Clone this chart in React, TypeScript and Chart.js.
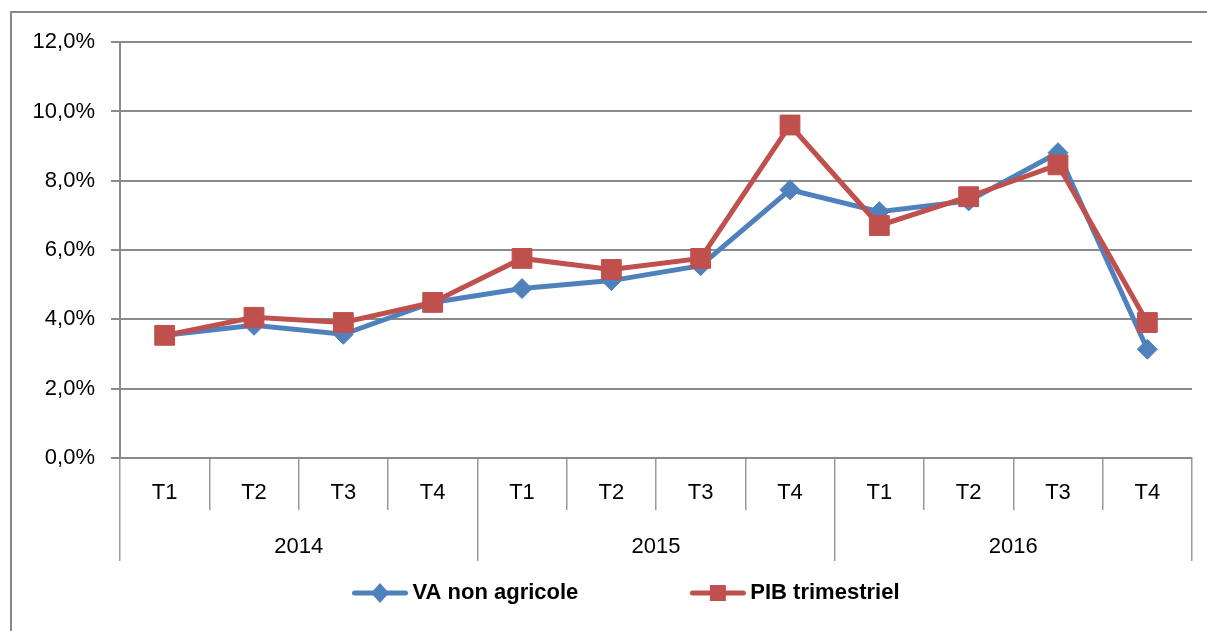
import React, { useEffect, useRef } from 'react';
import { Chart, registerables } from 'chart.js';

Chart.register(...registerables);

const years = ['2014', '2015', '2016'];
const quarters = ['T1', 'T2', 'T3', 'T4'];
const vaNonAgricole = [3.54, 3.83, 3.57, 4.49, 4.89, 5.12, 5.55, 7.74, 7.11, 7.42, 8.81, 3.14];
const pibTrimestriel = [3.54, 4.06, 3.91, 4.49, 5.76, 5.44, 5.76, 9.61, 6.71, 7.54, 8.46, 3.91];
const yTicks = [0, 2, 4, 6, 8, 10, 12];
const seriesNames = ['VA non agricole', 'PIB trimestriel'];

const categoryLabels = years.flatMap(() => quarters);

const BLUE = '#4F81BD';
const RED = '#C0504D';
const GRID = '#8a8a8a';
const SEP = '#9a9a9a';
const FONT = "'Liberation Sans', Arial, sans-serif";

function makeLegendImage(color: string, kind: 'diamond' | 'square') {
  const c = document.createElement('canvas');
  c.width = 160;
  c.height = 24;
  const ctx = c.getContext('2d')!;
  const cx = 107;
  ctx.strokeStyle = color;
  ctx.lineWidth = 5;
  ctx.lineCap = 'round';
  ctx.beginPath();
  ctx.moveTo(cx - 25.5, 12);
  ctx.lineTo(cx + 25.5, 12);
  ctx.stroke();
  ctx.fillStyle = color;
  if (kind === 'diamond') {
    ctx.beginPath();
    ctx.moveTo(cx, 12 - 10);
    ctx.lineTo(cx + 9, 12);
    ctx.lineTo(cx, 12 + 10);
    ctx.lineTo(cx - 9, 12);
    ctx.closePath();
    ctx.fill();
  } else {
    ctx.fillRect(cx - 8, 4, 16, 16);
  }
  return c;
}

export default function App() {
  const ref = useRef<HTMLCanvasElement | null>(null);

  useEffect(() => {
    document.documentElement.style.overflow = 'hidden';
    const canvas = ref.current;
    if (!canvas) return;
    const legendImages = [makeLegendImage(BLUE, 'diamond'), makeLegendImage(RED, 'square')];

    const chart = new Chart(canvas, {
      type: 'line',
      data: {
        labels: categoryLabels,
        datasets: [
          {
            label: seriesNames[0],
            data: vaNonAgricole,
            borderColor: BLUE,
            backgroundColor: BLUE,
            borderWidth: 5,
            pointStyle: 'rectRot',
            pointRadius: 10,
            pointBackgroundColor: BLUE,
            pointBorderColor: BLUE,
            pointBorderWidth: 1,
            tension: 0,
            order: 1,
          },
          {
            label: seriesNames[1],
            data: pibTrimestriel,
            borderColor: RED,
            backgroundColor: RED,
            borderWidth: 5,
            pointStyle: 'rect',
            pointRadius: 14,
            pointBackgroundColor: RED,
            pointBorderColor: RED,
            pointBorderWidth: 1,
            tension: 0,
            order: 0,
          },
        ],
      },
      options: {
        responsive: false,
        animation: false,
        layout: { autoPadding: false, padding: { left: 0, right: 7, top: 28, bottom: 9 } },
        plugins: {
          tooltip: { enabled: false },
          legend: {
            display: true,
            position: 'bottom',
            labels: {
              usePointStyle: true,
              pointStyleWidth: 97,
              padding: 64,
              color: '#000',
              font: { family: FONT, size: 22, weight: 'bold' },
              generateLabels: (ch: any) => {
                const items = Chart.defaults.plugins.legend.labels.generateLabels(ch);
                items.sort((a: any, b: any) => a.datasetIndex - b.datasetIndex);
                return items.map((it: any) => ({
                  ...it,
                  pointStyle: legendImages[it.datasetIndex],
                }));
              },
            },
          },
        },
        scales: {
          x: {
            type: 'category',
            position: 'bottom',
            offset: true,
            weight: 0,
            grid: {
              offset: true,
              drawOnChartArea: false,
              drawTicks: true,
              tickLength: 52,
              color: SEP,
              lineWidth: 1.5,
            },
            border: { display: true, color: GRID, width: 2 },
            ticks: {
              color: '#000',
              font: { family: FONT, size: 22 },
              padding: -30,
              maxRotation: 0,
              autoSkip: false,
            },
            afterFit: (s: any) => {
              s.height = 52;
            },
          },
          x2: {
            type: 'category',
            position: 'bottom',
            labels: years,
            offset: true,
            weight: 1,
            grid: {
              offset: true,
              drawOnChartArea: false,
              drawTicks: true,
              tickLength: 51,
              color: SEP,
              lineWidth: 1.5,
            },
            border: { display: false },
            ticks: {
              color: '#000',
              font: { family: FONT, size: 22 },
              mirror: true,
              padding: -50,
              maxRotation: 0,
              autoSkip: false,
            },
            afterFit: (s: any) => {
              s.height = 8;
            },
          },
          y: {
            type: 'linear',
            min: 0,
            max: 12,
            afterBuildTicks: (s: any) => {
              s.ticks = yTicks.map((v) => ({ value: v }));
            },
            grid: {
              color: GRID,
              lineWidth: 2,
              drawTicks: true,
              tickLength: 9,
            },
            border: { display: true, color: GRID, width: 2 },
            ticks: {
              color: '#000',
              font: { family: FONT, size: 22 },
              padding: 16,
              callback: (v: any) => Number(v).toFixed(1).replace('.', ',') + '%',
            },
            afterFit: (s: any) => {
              s.width = 108;
            },
          },
        },
      },
    });
    return () => chart.destroy();
  }, []);

  return (
    <div
      style={{
        position: 'fixed',
        left: 10,
        top: 11,
        width: 1197,
        height: 620,
        borderLeft: '2px solid #888',
        borderTop: '2px solid #888',
        background: '#fff',
      }}
    >
      <canvas ref={ref} width={1187} height={610} style={{ display: 'block' }} />
    </div>
  );
}
